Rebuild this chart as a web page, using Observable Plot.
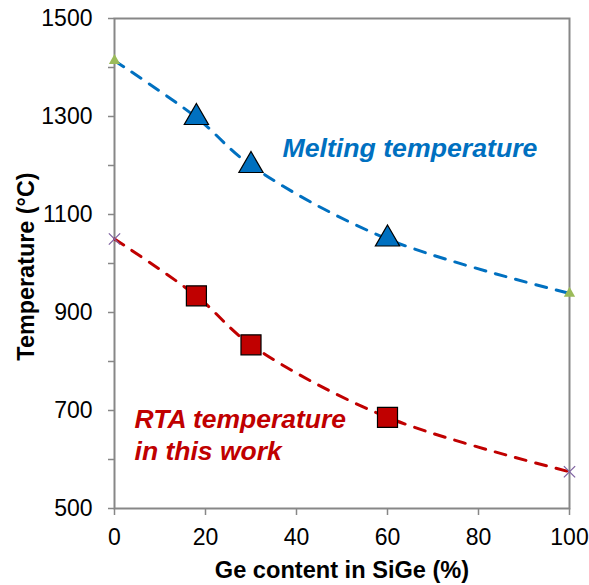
<!DOCTYPE html>
<html>
<head>
<meta charset="utf-8">
<script src="https://cdn.jsdelivr.net/npm/d3@7"></script>
<script src="https://cdn.jsdelivr.net/npm/@observablehq/plot@0.6"></script>
<style>
  html, body { margin: 0; padding: 0; background: #fff; }
</style>
</head>
<body>
<div id="chart"></div>
<script>
// Ge content (%)
const geContent = [0, 18, 30, 60, 100];
// Melting temperature (°C)
const meltTemp = [1414, 1298, 1200, 1050, 939];
// RTA temperature in this work (°C)
const rtaTemp = [1050, 934, 834, 686, 575];

const xTicks = [0, 20, 40, 60, 80, 100];
const yTicks = [500, 600, 700, 800, 900, 1000, 1100, 1200, 1300, 1400, 1500];
const yLabelTicks = [500, 700, 900, 1100, 1300, 1500];

const xTitle = "Ge content in SiGe (%)";
const yTitle = "Temperature (°C)";
const meltLabel = "Melting temperature";
const rtaLabel = "RTA temperature\nin this work";

const melt = geContent.map((x, i) => ({x, y: meltTemp[i]}));
const rta = geContent.map((x, i) => ({x, y: rtaTemp[i]}));
const inner = [1, 2, 3];
const ends = [0, 4];

const BLUE = "#0070C0", RED = "#C00000", GREEN = "#9BBB59", PURPLE = "#8064A2", GRAY = "#878787";

const chart = Plot.plot({
  width: 589,
  height: 585,
  marginLeft: 114,
  marginRight: 20,
  marginTop: 18,
  marginBottom: 77,
  style: {fontFamily: "'Liberation Sans', Arial, sans-serif", fontSize: "22px", background: "#fff", color: "#000"},
  x: {domain: [0, 100]},
  y: {domain: [500, 1500]},
  marks: [
    Plot.axisY({ticks: yTicks, tickSize: 6, tickPadding: 16, stroke: GRAY, strokeWidth: 1.5, fill: "#000", fontSize: 23,
      tickFormat: d => yLabelTicks.includes(d) ? String(d) : "", label: null}),
    Plot.axisX({ticks: xTicks, tickSize: 7, tickPadding: 13, stroke: GRAY, strokeWidth: 1.5, fill: "#000", fontSize: 23,
      tickFormat: d => String(d), label: null}),
    Plot.frame({stroke: GRAY, strokeWidth: 2}),
    Plot.line(melt, {x: "x", y: "y", curve: "catmull-rom", stroke: BLUE, strokeWidth: 3, strokeDasharray: "11,10"}),
    Plot.line(rta, {x: "x", y: "y", curve: "catmull-rom", stroke: RED, strokeWidth: 3, strokeDasharray: "11,10"}),
    Plot.dot(ends.map(i => melt[i]), {x: "x", y: "y", symbol: "triangle", r: 4.2, fill: GREEN, stroke: "none"}),
    Plot.dot(ends.map(i => rta[i]), {x: "x", y: "y", symbol: "times", r: 5.2, stroke: PURPLE, strokeWidth: 1.3}),
    Plot.dot(inner.map(i => melt[i]), {x: "x", y: "y", symbol: "triangle", r: 9, fill: BLUE, stroke: "#000", strokeWidth: 1.2}),
    Plot.dot(inner.map(i => rta[i]), {x: "x", y: "y", symbol: "square", r: 11.3, fill: RED, stroke: "#000", strokeWidth: 1.2}),
    Plot.text([meltLabel], {x: 36.9, y: 1218, text: d => d, textAnchor: "start", lineAnchor: "bottom",
      fill: BLUE, fontSize: 26.7, fontWeight: "bold", fontStyle: "italic"}),
    Plot.text([rtaLabel], {x: 4.4, y: 599, text: d => d, textAnchor: "start", lineAnchor: "bottom", lineHeight: 1.19,
      fill: RED, fontSize: 26.5, fontWeight: "bold", fontStyle: "italic"}),
    Plot.text([xTitle], {frameAnchor: "bottom", dy: 69, text: d => d, lineAnchor: "bottom",
      fill: "#000", fontSize: 23.6, fontWeight: "bold"}),
    Plot.text([yTitle], {frameAnchor: "left", dx: -81, dy: 3, rotate: -90, text: d => d, textAnchor: "middle", lineAnchor: "bottom",
      fill: "#000", fontSize: 23.4, fontWeight: "bold"})
  ]
});
document.getElementById("chart").appendChild(chart);
</script>
</body>
</html>
